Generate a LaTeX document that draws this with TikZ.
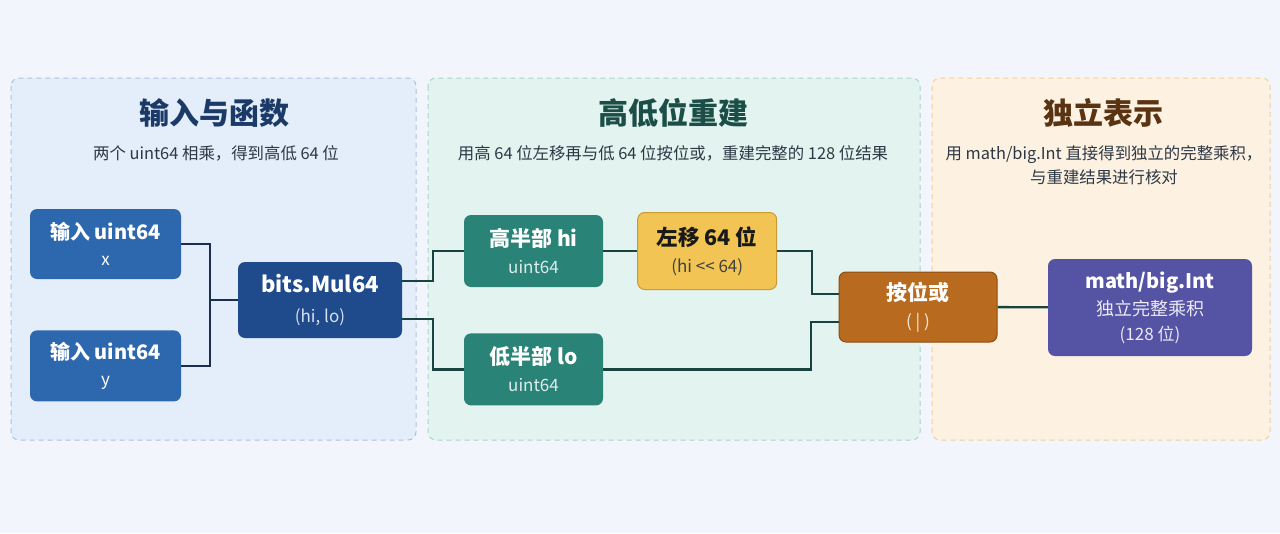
\documentclass[tikz,border=0pt]{standalone}
\usepackage{fontspec}
\setmainfont{Noto Sans CJK SC}
\usetikzlibrary{positioning, calc}
\definecolor{cbg}{HTML}{F2F6FC}
\definecolor{cpanelA}{HTML}{E4EEFA}
\definecolor{cedgeA}{HTML}{A8C4E4}
\definecolor{cpanelB}{HTML}{E3F4F0}
\definecolor{cedgeB}{HTML}{A6D6C8}
\definecolor{cpanelC}{HTML}{FDF2E2}
\definecolor{cedgeC}{HTML}{EFCF9E}
\definecolor{ctitleA}{HTML}{1C3A68}
\definecolor{ctitleB}{HTML}{1B4E46}
\definecolor{ctitleC}{HTML}{5A3412}
\definecolor{csub}{HTML}{2E3845}
\definecolor{cin}{HTML}{2D68AE}
\definecolor{cmul}{HTML}{1F4B8C}
\definecolor{cteal}{HTML}{2A8377}
\definecolor{cshift}{HTML}{F1C453}
\definecolor{cshiftedge}{HTML}{C99A33}
\definecolor{cor}{HTML}{B86A1F}
\definecolor{coredge}{HTML}{8E4E12}
\definecolor{cbig}{HTML}{5553A4}
\definecolor{clinkA}{HTML}{1A2E4F}
\definecolor{clinkB}{HTML}{18433F}
\newcommand{\boxsub}[1]{{\fontsize{17}{21}\selectfont\mdseries #1}}
\tikzset{
  panel/.style={draw=#1, dashed, dash pattern=on 5pt off 4pt, rounded corners=8pt, line width=1pt},
  title/.style={font=\fontsize{30}{34}\selectfont\bfseries, anchor=center},
  note/.style={font=\fontsize{16.4}{24}\selectfont, text=csub, align=center},
  box/.style={fill=#1, rounded corners=7pt, align=center, text=white, inner sep=3pt,
    font=\fontsize{20}{26}\selectfont\bfseries},
  link/.style={draw=#1, line width=2.4pt},
  link/.default=clinkB,
}
\begin{document}
\begin{tikzpicture}[x=1pt, y=1pt]
  \fill[cbg] (0,0) rectangle (1280,-533);
  \useasboundingbox (0,0) rectangle (1280,-533);
  % panels
  \draw[panel=cedgeA, fill=cpanelA] (11,-78) rectangle (416,-440);
  \draw[panel=cedgeB, fill=cpanelB] (428,-78) rectangle (920,-440);
  \draw[panel=cedgeC, fill=cpanelC] (932,-78) rectangle (1270,-440);
  \node[title, text=ctitleA] (tA) at (214,-113) {输入与函数};
  \node[title, text=ctitleB] (tB) at (673,-113) {高低位重建};
  \node[title, text=ctitleC] (tC) at (1103,-113) {独立表示};
  \node[note] (nA) at (216,-153) {两个 uint64 相乘，得到高低 64 位};
  \node[note] (nB) at (673,-153) {用高 64 位左移再与低 64 位按位或，重建完整的 128 位结果};
  \node[note] (nC) at (1104,-165) {用 math/big.Int 直接得到独立的完整乘积，\\与重建结果进行核对};
  % nodes
  \node[box=cin, minimum width=151pt, minimum height=70pt] (inx) at (105.5,-244) {输入 uint64\\\boxsub{x}};
  \node[box=cin, minimum width=151pt, minimum height=71pt, below=51pt of inx] (iny) {输入 uint64\\\boxsub{y}};
  \node[box=cmul, minimum width=164pt, minimum height=76pt, font=\fontsize{22}{30}\selectfont\bfseries] (mul) at (320,-300) {bits.Mul64\\\boxsub{\color{white!80!cin}(hi, lo)}};
  \node[box=cteal, minimum width=139pt, minimum height=72pt, font=\fontsize{21}{27}\selectfont\bfseries] (hi) at (533.5,-251) {高半部 hi\\\boxsub{\color{white!85!cteal}uint64}};
  \node[box=cteal, minimum width=139pt, minimum height=72pt, font=\fontsize{21}{27}\selectfont\bfseries, below=46pt of hi] (lo) {低半部 lo\\\boxsub{\color{white!85!cteal}uint64}};
  \node[box=cshift, draw=cshiftedge, line width=1pt, text=black!90, minimum width=139pt, minimum height=77pt, font=\fontsize{21.5}{27}\selectfont\bfseries, right=34pt of hi] (shift) {左移 64 位\\\boxsub{\color{black!75}(hi {<}{<} 64)}};
  \node[box=cor, draw=coredge, line width=1pt, minimum width=158pt, minimum height=70pt, font=\fontsize{21}{27}\selectfont\bfseries] (or) at (918,-307) {按位或\\\boxsub{\color{white!85!cor}( | )}};
  \node[box=cbig, minimum width=204pt, minimum height=97pt] (big) at (1150,-307.5) {math/big.Int\\[1pt]{\fontsize{18}{22}\selectfont\mdseries\color{white!88!cbig}独立完整乘积}\\[-1pt]{\fontsize{17}{22}\selectfont\mdseries\color{white!88!cbig}(128 位)}};
  % connectors
  \coordinate (join) at (210,-300);
  \draw[link=clinkA] (inx.east) -| (join) |- (iny.east);
  \draw[link=clinkA] (join) -- (mul.west);
  \draw[link] ([yshift=19pt]mul.east) -- ++(31,0) |- (hi.west);
  \draw[link] ([yshift=-19pt]mul.east) -- ++(31,0) |- (lo.west);
  \draw[link] (hi) -- (shift);
  \draw[link] (shift.east) -- ++(35,0) |- ([yshift=13pt]or.west);
  \draw[link] (lo.east) -- ++(208,0) |- ([yshift=-15pt]or.west);
  \draw[link] (or) -- (big);
\end{tikzpicture}
\end{document}
